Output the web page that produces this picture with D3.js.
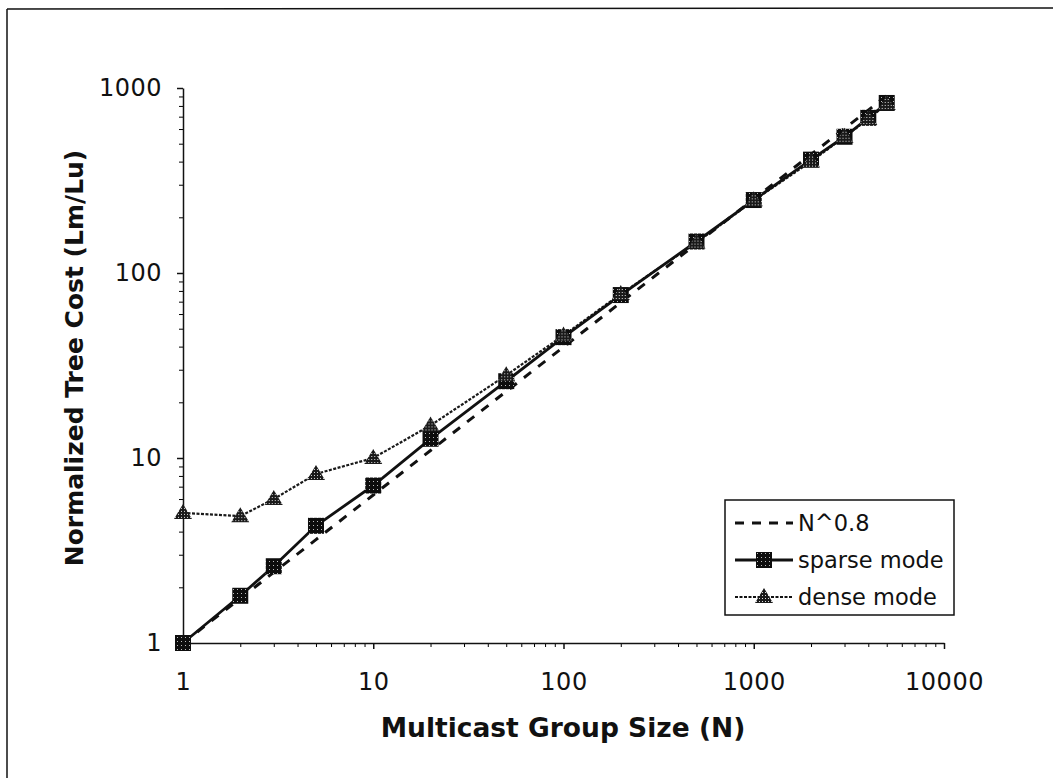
<!DOCTYPE html>
<head>
	<script src="https://d3js.org/d3.v7.min.js"></script>
	<style>
		body { margin: 0; background: #fff; }
		text { font-family: "DejaVu Sans", Verdana, sans-serif; fill: #111; }
	</style>
</head>
<body>
<svg></svg>
<script>
	// group sizes (N) and normalized tree cost
	var groupSize = [1, 2, 3, 5, 10, 20, 50, 100, 200, 500, 1000, 2000, 3000, 4000, 5000];
	var powerLaw  = [1, 1.74, 2.41, 3.62, 6.31, 10.98, 22.9, 39.8, 69.3, 144, 251, 437, 604, 759, 912];
	var sparse    = [1, 1.8, 2.6, 4.3, 7.1, 12.7, 26, 45, 76, 148, 248, 410, 545, 690, 830];
	var dense     = [5.05, 4.85, 6.0, 8.2, 10, 15, 28, 46, 77, 146, 247, 400, 545, 680, 820];
	var xTicks = [1, 10, 100, 1000, 10000];
	var yTicks = [1, 10, 100, 1000];
	var legendNames = ["N^0.8", "sparse mode", "dense mode"];

	var width = 1053, height = 778;
	var svg = d3.select("svg").attr("width", width).attr("height", height);

	var defs = svg.append("defs");
	// speckled fills to look like the scanned markers
	var pSq = defs.append("pattern").attr("id", "sq").attr("width", 4).attr("height", 4)
		.attr("patternUnits", "userSpaceOnUse");
	pSq.append("rect").attr("width", 4).attr("height", 4).attr("fill", "#0d0d0d");
	pSq.append("rect").attr("x", 1).attr("y", 1).attr("width", 1).attr("height", 1).attr("fill", "#bbb");
	var pTr = defs.append("pattern").attr("id", "tr").attr("width", 3).attr("height", 3)
		.attr("patternUnits", "userSpaceOnUse");
	pTr.append("rect").attr("width", 3).attr("height", 3).attr("fill", "#1a1a1a");
	pTr.append("rect").attr("x", 1).attr("y", 1).attr("width", 1).attr("height", 1).attr("fill", "#ddd");

	// frame (cut off at right/bottom in the scan)
	svg.append("line").attr("x1", 7).attr("y1", 9).attr("x2", width).attr("y2", 8)
		.attr("stroke", "#111").attr("stroke-width", 1.5);
	svg.append("line").attr("x1", 7).attr("y1", 9).attr("x2", 7).attr("y2", height)
		.attr("stroke", "#111").attr("stroke-width", 1.5);

	var x = d3.scaleLog().domain([1, 10000]).range([183, 944]);
	var y = d3.scaleLog().domain([1, 1000]).range([643, 88]);

	function minors(lo, hi) {
		var out = [];
		for (var d = lo; d < hi; d *= 10)
			for (var k = 2; k <= 9; k++) out.push(d * k);
		return out;
	}

	// minor ticks
	svg.append("g").attr("transform", "translate(0,643)")
		.call(d3.axisBottom(x).tickValues(minors(1, 10000)).tickSize(4).tickFormat(""))
		.call(function(g) { g.select(".domain").remove(); });
	svg.append("g").attr("transform", "translate(183,0)")
		.call(d3.axisLeft(y).tickValues(minors(1, 1000)).tickSize(4).tickFormat(""))
		.call(function(g) { g.select(".domain").remove(); });

	var xAxis = svg.append("g").attr("transform", "translate(0,643)")
		.call(d3.axisBottom(x).tickValues(xTicks).tickSize(6).tickPadding(24).tickSizeOuter(0)
			.tickFormat(d3.format("d")));
	var yAxis = svg.append("g").attr("transform", "translate(183,0)")
		.call(d3.axisLeft(y).tickValues(yTicks).tickSize(6).tickPadding(15).tickSizeOuter(0)
			.tickFormat(d3.format("d")));
	[xAxis, yAxis].forEach(function(g) {
		g.selectAll("path, line").attr("stroke", "#111").attr("stroke-width", 1.5);
		g.selectAll("text").style("font-size", "24px").attr("fill", "#111")
			.attr("font-family", "DejaVu Sans, sans-serif").style("letter-spacing", "0.5px");
	});

	svg.append("text").attr("x", 563).attr("y", 737).attr("text-anchor", "middle")
		.style("font-size", "26.5px").style("font-weight", "bold")
		.text("Multicast Group Size (N)");
	svg.append("text").attr("transform", "translate(83,358) rotate(-90)").attr("text-anchor", "middle")
		.style("font-size", "25px").style("font-weight", "bold")
		.text("Normalized Tree Cost (Lm/Lu)");

	function pts(vals) { return groupSize.map(function(n, i) { return [n, vals[i]]; }); }
	var line = d3.line().x(function(d) { return x(d[0]); }).y(function(d) { return y(d[1]); });

	svg.append("path").datum(pts(dense)).attr("d", line).attr("fill", "none")
		.attr("stroke", "#1a1a1a").attr("stroke-width", 2.2).attr("stroke-dasharray", "3,1.5");
	svg.append("path").datum(pts(powerLaw)).attr("d", line).attr("fill", "none")
		.attr("stroke", "#111").attr("stroke-width", 3).attr("stroke-dasharray", "9,9");
	svg.append("path").datum(pts(sparse)).attr("d", line).attr("fill", "none")
		.attr("stroke", "#111").attr("stroke-width", 2.8);

	// triangle marker, 18 wide and 15 tall
	var tri = "M0,-9L9,6L-9,6Z";
	svg.selectAll(".sq").data(pts(sparse)).enter().append("rect")
		.attr("x", function(d) { return x(d[0]) - 8; })
		.attr("y", function(d) { return y(d[1]) - 8; })
		.attr("width", 16).attr("height", 16).attr("fill", "url(#sq)");
	svg.selectAll(".tr").data(pts(dense)).enter().append("path")
		.attr("transform", function(d) { return "translate(" + x(d[0]) + "," + y(d[1]) + ")"; })
		.attr("d", tri).attr("fill", "url(#tr)");

	// legend
	var lg = svg.append("g");
	lg.append("rect").attr("x", 725).attr("y", 500).attr("width", 229).attr("height", 115)
		.attr("fill", "#fff").attr("stroke", "#111").attr("stroke-width", 1.5);
	var rowY = [523, 560, 597];
	legendNames.forEach(function(name, i) {
		var ln = lg.append("line").attr("x1", 735).attr("x2", 793).attr("y1", rowY[i]).attr("y2", rowY[i])
			.attr("stroke", "#111").attr("stroke-width", 2.8);
		if (i === 0) ln.attr("stroke-dasharray", "9,8");
		if (i === 2) ln.attr("stroke-width", 2.2).attr("stroke-dasharray", "3,1.5");
		if (i === 1) lg.append("rect").attr("x", 756).attr("y", rowY[i] - 8).attr("width", 16).attr("height", 16)
			.attr("fill", "url(#sq)");
		if (i === 2) lg.append("path").attr("transform", "translate(764," + rowY[i] + ")")
			.attr("d", tri).attr("fill", "url(#tr)");
		lg.append("text").attr("x", 798).attr("y", rowY[i]).attr("dy", "0.35em")
			.style("font-size", "22.5px").text(name);
	});
</script>
</body>
</html>
